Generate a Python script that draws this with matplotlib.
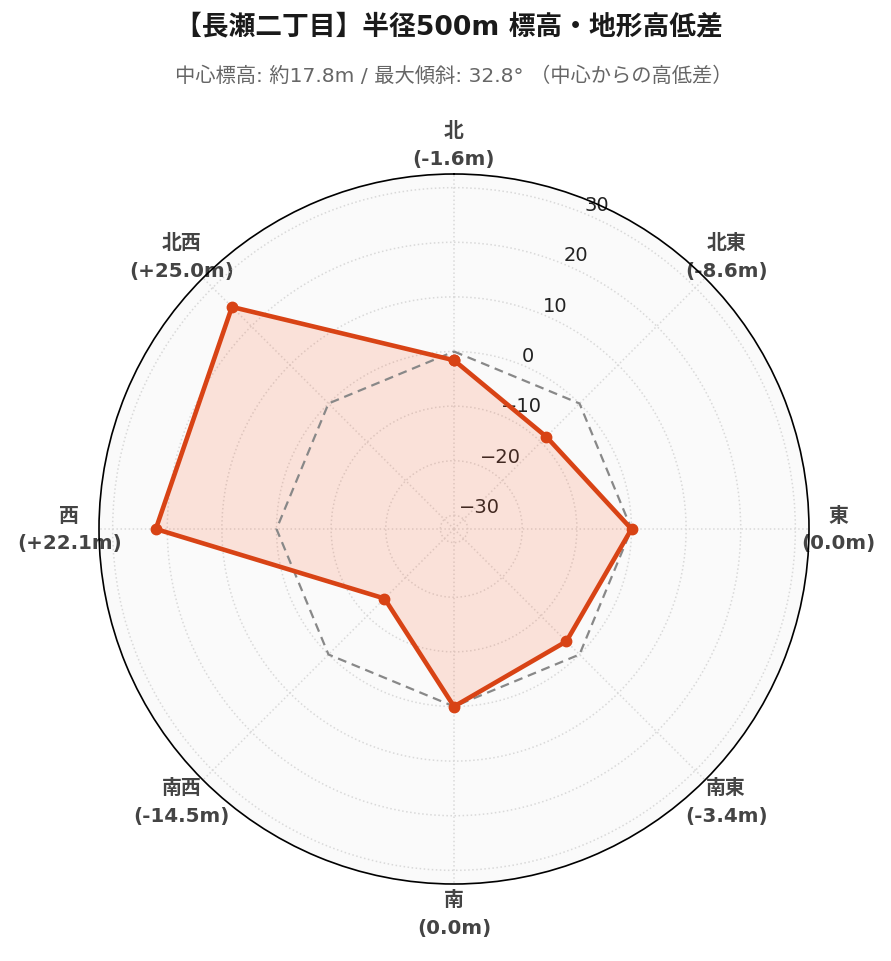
import numpy as np
import matplotlib
matplotlib.use("Agg")
import matplotlib.pyplot as plt

plt.rcParams['font.family'] = ['DejaVu Sans', 'Noto Sans CJK JP']

# data
directions = ["北", "北東", "東", "南東", "南", "南西", "西", "北西"]
diffs = [-1.6, -8.6, 0.0, -3.4, 0.0, -14.5, 22.1, 25.0]
r_ticks = [-30, -20, -10, 0, 10, 20, 30]
r_max = 32.5

title = "【長瀬二丁目】半径500m 標高・地形高低差"
subtitle = "中心標高: 約17.8m / 最大傾斜: 32.8° （中心からの高低差）"


def fmt(v):
    if v > 0:
        return f"+{v:.1f}"
    return f"{v:.1f}"


labels = [f"{d}\n({fmt(v)}m)" for d, v in zip(directions, diffs)]
theta = np.deg2rad(np.arange(len(directions)) * 45)
theta_c = np.append(theta, theta[0])
vals_c = np.append(diffs, diffs[0])

fig = plt.figure(figsize=(8.91, 9.62), dpi=100)
ax = fig.add_axes([99 / 891, 77 / 962, 710 / 891, 710 / 962], projection='polar')
ax.set_theta_zero_location('N')
ax.set_theta_direction(-1)
ax.set_facecolor('#fafafa')

# zero line
ax.plot(theta_c, np.zeros_like(theta_c), color='#888888', lw=1.6,
        linestyle=(0, (4, 2.6)), zorder=3)
ax.fill(theta_c, vals_c, color='#ff5722', alpha=0.15, lw=0, zorder=2)
ax.plot(theta_c, vals_c, color='#d84315', lw=3.3, marker='o', ms=7.5,
        zorder=4)

ax.set_ylim(-r_max, r_max)
ax.set_yticks(r_ticks)
ax.set_yticklabels([f"{t}".replace("-", "\u2212") for t in r_ticks])
ax.set_rlabel_position(22.5)
ax.tick_params(axis='y', labelsize=14, colors='#222222', pad=0)

ax.set_xticks(theta)
ax.set_xticklabels(labels, fontsize=14.3, fontweight='bold', color='#444444',
                   linespacing=1.6)
ax.tick_params(axis='x', pad=14.5, length=0)

ax.grid(True, color='#d9d9d9', linestyle=':', lw=1.1)
ax.spines['polar'].set_color('black')
ax.spines['polar'].set_linewidth(1.2)

fig.text(0.504, 1 - 27 / 962, title, ha='center', va='center', fontsize=19.3,
         fontweight='bold', color='#1a1a1a')
fig.text(0.509, 1 - 76 / 962, subtitle, ha='center', va='center', fontsize=14.6,
         color='#666666')

fig.savefig('out.png', dpi=100)
